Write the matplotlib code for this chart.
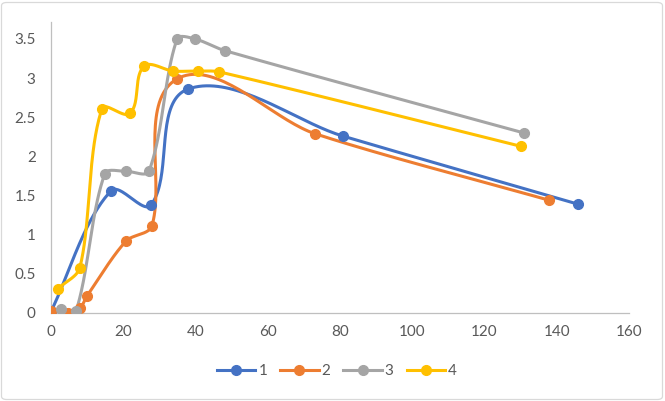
import numpy as np
import matplotlib
matplotlib.use('Agg')
import matplotlib.pyplot as plt
from matplotlib.patches import FancyBboxPatch

# data
x1 = [0, 16.6, 27.7, 37.9, 80.8, 145.9]
y1 = [0.02, 1.56, 1.38, 2.86, 2.26, 1.39]

x2 = [0, 4.7, 8.0, 10.0, 20.8, 27.9, 34.9, 73.1, 137.9]
y2 = [0.02, 0.0, 0.06, 0.22, 0.92, 1.11, 2.99, 2.29, 1.44]

x3 = [2.8, 6.9, 14.9, 20.8, 27.1, 34.9, 39.9, 48.2, 130.9]
y3 = [0.05, 0.02, 1.78, 1.81, 1.81, 3.50, 3.50, 3.35, 2.30]

x4 = [1.9, 8.0, 14.1, 21.9, 25.7, 33.8, 40.8, 46.6, 130.0]
y4 = [0.31, 0.58, 2.61, 2.55, 3.15, 3.09, 3.09, 3.08, 2.13]

labels = ['1', '2', '3', '4']
colors = ['#4472C4', '#ED7D31', '#A5A5A5', '#FFC000']

# pixel scale of the plot area, used so the smoothing works in screen space
SX, SY = 578 / 160, 291 / 3.717


def smooth(xs, ys, k=0.3, n=40):
    """Excel-like smoothed line: Bezier segments, arm length tied to segment length."""
    p = np.column_stack([np.asarray(xs) * SX, np.asarray(ys) * SY])
    m = len(p)
    tang = []
    for i in range(m):
        a = p[max(i - 1, 0)]
        b = p[min(i + 1, m - 1)]
        d = b - a
        tang.append(d / (np.hypot(*d) or 1))
    out = [p[0]]
    t = np.linspace(0, 1, n)[1:, None]
    for i in range(m - 1):
        L = np.hypot(*(p[i + 1] - p[i]))
        c1 = p[i] + tang[i] * L * k
        c2 = p[i + 1] - tang[i + 1] * L * k
        seg = ((1 - t) ** 3 * p[i] + 3 * (1 - t) ** 2 * t * c1
               + 3 * (1 - t) * t ** 2 * c2 + t ** 3 * p[i + 1])
        out.extend(seg)
    out = np.array(out)
    return out[:, 0] / SX, out[:, 1] / SY


plt.rcParams['font.family'] = ['Lato', 'DejaVu Sans']

fig = plt.figure(figsize=(6.65, 4.01), dpi=100, facecolor='white')
ax = fig.add_axes([51 / 665, 88 / 401, 578 / 665, 291 / 401])

series = [(x1, y1), (x2, y2), (x3, y3), (x4, y4)]
for (xs, ys), lab, c in zip(series, labels, colors):
    sx, sy = smooth(xs, ys)
    ax.plot(sx, sy, color=c, lw=2.2, solid_capstyle='round', zorder=2)
    ax.plot(xs, ys, 'o', color=c, ms=7, zorder=3)
    ax.plot([], [], '-o', color=c, lw=2.2, ms=7, label=lab)

ax.set_xlim(0, 160)
ax.set_ylim(0, 3.717)
ax.set_xticks(np.arange(0, 161, 20))
ax.set_yticks(np.arange(0, 3.6, 0.5))
ax.set_yticklabels(['0', '0.5', '1', '1.5', '2', '2.5', '3', '3.5'])

for side in ['top', 'right']:
    ax.spines[side].set_visible(False)
for side in ['left', 'bottom']:
    ax.spines[side].set_color('#BFBFBF')
    ax.spines[side].set_linewidth(0.9)
ax.tick_params(length=0, labelsize=11, colors='#595959')
ax.tick_params(axis='x', pad=8.5)
ax.tick_params(axis='y', pad=11)
for lbl in ax.get_xticklabels():
    lbl.set_clip_on(False)

leg = fig.legend(loc='center', bbox_to_anchor=(337 / 665, 1 - 371 / 401),
                 ncol=4, frameon=False, fontsize=11, handlelength=2.5,
                 columnspacing=0.85, handletextpad=0.2)
for t in leg.get_texts():
    t.set_color('#595959')

border = FancyBboxPatch((1.5 / 665, 1.5 / 401), 661 / 665, 397 / 401,
                        boxstyle='round,pad=0,rounding_size=0.008',
                        transform=fig.transFigure, fill=False,
                        edgecolor='#D9D9D9', lw=0.9)
fig.patches.append(border)

fig.savefig('out.png', dpi=100, facecolor='white')
